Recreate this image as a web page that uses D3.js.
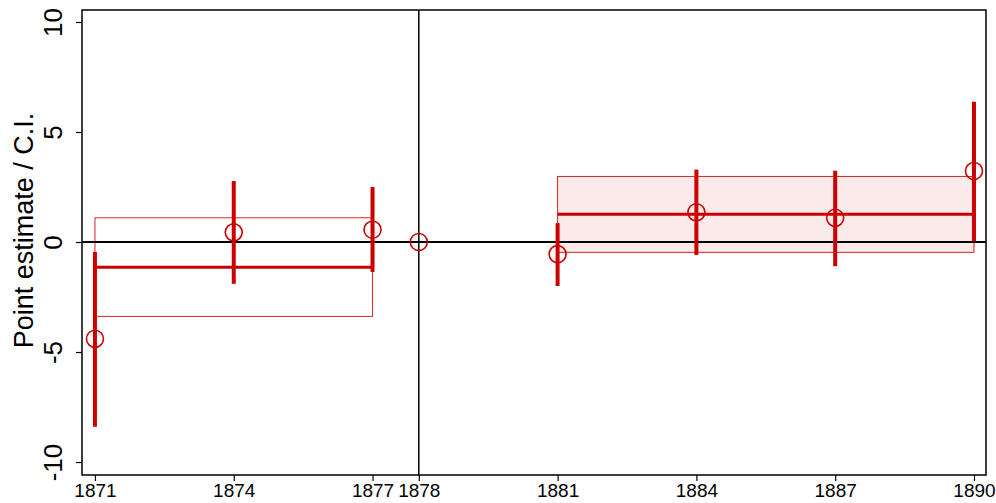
<!DOCTYPE html>
<html><head><meta charset="utf-8">
<script src="https://cdn.jsdelivr.net/npm/d3@7"></script>
<style>html,body{margin:0;padding:0;background:#fff;}svg{display:block;font-family:"Liberation Sans",Arial,sans-serif;}</style>
</head><body>
<script>
const years = [1871, 1874, 1877, 1878, 1881, 1884, 1887, 1890];
const estimates = [-4.4, 0.44, 0.56, 0, -0.55, 1.35, 1.1, 3.23];
const ciLow = [-8.4, -1.9, -1.36, null, -2.0, -0.59, -1.1, 0.02];
const ciHigh = [-0.45, 2.77, 2.5, null, 0.86, 3.29, 3.24, 6.38];
const periods = ["pre", "post"];
const periodStart = [1871, 1881];
const periodEnd = [1877, 1890];
const periodMean = [-1.15, 1.26];
const periodLow = [-3.38, -0.47];
const periodHigh = [1.1, 2.98];
const yTicks = [-10, -5, 0, 5, 10];
const eventYear = 1878;

(function () {
const W = 996, H = 503;
const mL = 82, mR = 986, mT = 10, mB = 475;
const red = "#cc0000";

const svg = d3.select("body").append("svg").attr("width", W).attr("height", H);

const x = d3.scaleLinear().domain([1870.72, 1890.26]).range([mL, mR]);
const y = d3.scaleLinear().domain([-10.59, 10.545]).range([mB, mT]);

// period boxes
periods.forEach((p, i) => {
  svg.append("rect")
    .attr("x", x(periodStart[i])).attr("y", y(periodHigh[i]))
    .attr("width", x(periodEnd[i]) - x(periodStart[i]))
    .attr("height", y(periodLow[i]) - y(periodHigh[i]))
    .attr("fill", i === 1 ? "#fbeaea" : "none")
    .attr("stroke", red).attr("stroke-opacity", 0.85).attr("stroke-width", 1);
});

// reference lines
svg.append("line").attr("x1", mL).attr("x2", mR).attr("y1", y(0)).attr("y2", y(0))
  .attr("stroke", "#000").attr("stroke-width", 2);
svg.append("line").attr("x1", x(eventYear)).attr("x2", x(eventYear)).attr("y1", mT).attr("y2", mB)
  .attr("stroke", "#000").attr("stroke-width", 1.5);

// period mean lines
periods.forEach((p, i) => {
  svg.append("line")
    .attr("x1", x(periodStart[i])).attr("x2", x(periodEnd[i]))
    .attr("y1", y(periodMean[i])).attr("y2", y(periodMean[i]))
    .attr("stroke", red).attr("stroke-width", 3);
});

// CIs
years.forEach((yr, i) => {
  if (ciLow[i] === null) return;
  svg.append("line")
    .attr("x1", x(yr)).attr("x2", x(yr))
    .attr("y1", y(ciLow[i])).attr("y2", y(ciHigh[i]))
    .attr("stroke", red).attr("stroke-width", 4);
});

// points
svg.selectAll("circle.pt").data(years).enter().append("circle")
  .attr("class", "pt")
  .attr("cx", d => x(d)).attr("cy", (d, i) => y(estimates[i]))
  .attr("r", 8.5).attr("fill", "none").attr("stroke", red).attr("stroke-width", 1.6);

// frame
svg.append("rect").attr("x", mL).attr("y", mT).attr("width", mR - mL).attr("height", mB - mT)
  .attr("fill", "none").attr("stroke", "#000").attr("stroke-width", 1.5);

// x axis
const xAxis = svg.append("g").attr("transform", `translate(0,${mB})`)
  .call(d3.axisBottom(x).tickValues(years).tickFormat(d3.format("d")).tickSize(6).tickSizeOuter(0).tickPadding(3));
xAxis.select(".domain").remove();
xAxis.selectAll("line").attr("stroke", "#000").attr("stroke-width", 1.2);
xAxis.selectAll("text").attr("font-size", 19).attr("fill", "#000")
  .attr("font-family", "'Liberation Sans', Arial, sans-serif");

// y axis
const yAxis = svg.append("g").attr("transform", `translate(${mL},0)`)
  .call(d3.axisLeft(y).tickValues(yTicks).tickSize(6).tickSizeOuter(0));
yAxis.select(".domain").remove();
yAxis.selectAll("line").attr("stroke", "#000").attr("stroke-width", 1.2);
yAxis.selectAll("text").remove();
yAxis.selectAll(".tick").append("text")
  .attr("transform", "translate(-20,0) rotate(-90)")
  .attr("text-anchor", "middle")
  .attr("fill", "#000").attr("font-size", 26)
  .attr("font-family", "'Liberation Sans', Arial, sans-serif")
  .text(d => d);

// y title
svg.append("text")
  .attr("transform", `translate(33,230.5) rotate(-90)`)
  .attr("text-anchor", "middle").attr("font-size", 27).attr("fill", "#000")
  .text("Point estimate / C.I.");
})();
</script>
</body></html>
